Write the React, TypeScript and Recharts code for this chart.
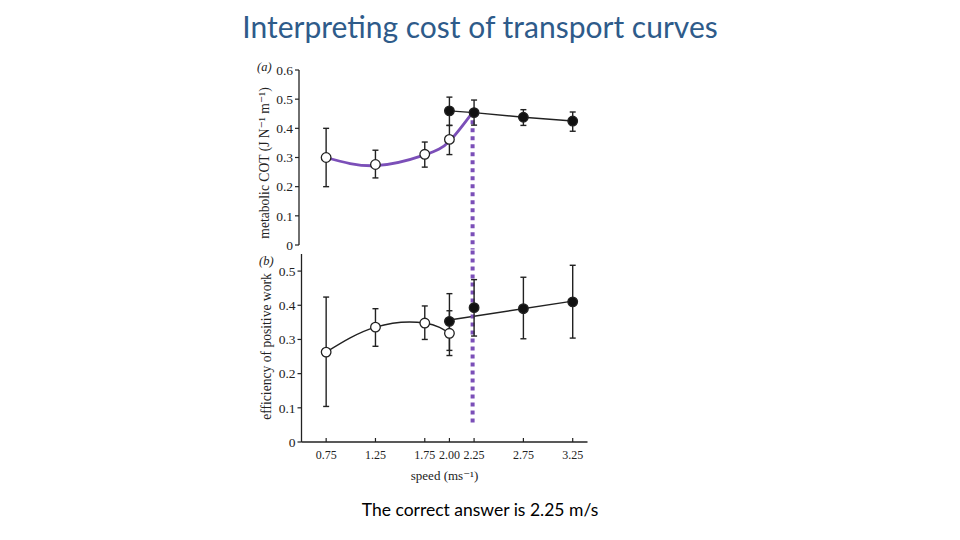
import { ComposedChart, Line, Scatter, XAxis, YAxis, ErrorBar, ReferenceLine, Label } from "recharts";

// speeds (m/s)
const speedTicks = [0.75, 1.25, 1.75, 2.0, 2.25, 2.75, 3.25];
const openSpeeds = [0.75, 1.25, 1.75, 2.0];
const filledSpeeds = [2.0, 2.25, 2.75, 3.25];

// (a) metabolic COT: mean, lower, upper
const cotOpenMean = [0.3, 0.276, 0.311, 0.362];
const cotOpenLow = [0.2, 0.23, 0.267, 0.31];
const cotOpenHigh = [0.4, 0.325, 0.353, 0.41];
const cotFilledMean = [0.46, 0.454, 0.438, 0.425];
const cotFilledLow = [0.41, 0.411, 0.41, 0.39];
const cotFilledHigh = [0.507, 0.497, 0.464, 0.456];
const cotFitSpeeds = [0.75, 1.25, 1.75, 2.0, 2.235];
const cotFitValues = [0.3, 0.272, 0.309, 0.356, 0.455];
const cotTicks = [0, 0.1, 0.2, 0.3, 0.4, 0.5, 0.6];

// (b) efficiency of positive work
const effOpenMean = [0.263, 0.336, 0.348, 0.318];
const effOpenLow = [0.104, 0.28, 0.3, 0.253];
const effOpenHigh = [0.424, 0.39, 0.398, 0.384];
const effFilledMean = [0.353, 0.393, 0.39, 0.41];
const effFilledLow = [0.268, 0.31, 0.302, 0.304];
const effFilledHigh = [0.434, 0.475, 0.482, 0.517];
const effFitSpeeds = [2.0, 3.25];
const effFitValues = [0.357, 0.412];
const effTicks = [0, 0.1, 0.2, 0.3, 0.4, 0.5];

const answerSpeed = 2.235;

const SERIF = '"Liberation Serif", "DejaVu Serif", serif';
const INK = "#222";
const PURPLE = "#7b4fb8";

const rows = (xs: number[], mean: number[], low: number[], high: number[]) =>
  xs.map((x, i) => ({ x, y: mean[i], err: [mean[i] - low[i], high[i] - mean[i]] }));
const line = (xs: number[], ys: number[]) => xs.map((x, i) => ({ x, y: ys[i] }));

const fmtY = (v: number) => (v === 0 ? "0" : v.toFixed(1));

const dot = (fill: string) => (p: any) => (
  <circle cx={p.cx} cy={p.cy} r={4.8} fill={fill} stroke={INK} strokeWidth={1.3} />
);

const yLabel = (text: string, ox: number, oy: number) => (p: any) => {
  const { x, y, width, height } = p.viewBox;
  const cx = x + width / 2 + ox;
  const cy = y + height / 2 + oy;
  return (
    <text x={cx} y={cy} transform={`rotate(-90 ${cx} ${cy})`} textAnchor="middle" dominantBaseline="central"
      fill={INK} fontSize={13.6} fontFamily={SERIF}>
      {text}
    </text>
  );
};

export default function App() {
  const cotOpen = rows(openSpeeds, cotOpenMean, cotOpenLow, cotOpenHigh);
  const cotFilled = rows(filledSpeeds, cotFilledMean, cotFilledLow, cotFilledHigh);
  const effOpen = rows(openSpeeds, effOpenMean, effOpenLow, effOpenHigh);
  const effFilled = rows(filledSpeeds, effFilledMean, effFilledLow, effFilledHigh);

  const yAxisProps = {
    type: "number" as const,
    width: 50,
    tick: { fill: INK, fontSize: 13.5, fontFamily: SERIF },
    tickSize: 4,
    tickMargin: 2,
    tickFormatter: fmtY,
    interval: 0 as const,
    axisLine: { stroke: INK, strokeWidth: 1.3 },
    tickLine: { stroke: INK, strokeWidth: 1.2 },
    allowDataOverflow: true,
  };

  return (
    <div style={{ position: "absolute", left: 0, top: 0, width: 960, height: 540, background: "#fff", overflow: "hidden" }}>
      <div style={{ position: "absolute", left: 0, width: 960, top: 8, textAlign: "center", fontFamily: "Lato, 'Open Sans', sans-serif", fontSize: 30, color: "#2e5b8a" }}>
        Interpreting cost of transport curves
      </div>

      <span style={{ position: "absolute", left: 257, top: 60, fontFamily: SERIF, fontSize: 12.5, fontStyle: "italic", color: INK }}>(a)</span>
      <span style={{ position: "absolute", left: 259, top: 254, fontFamily: SERIF, fontSize: 12.5, fontStyle: "italic", color: INK }}>(b)</span>

      <div style={{ position: "absolute", left: 230, top: 60 }}>
        <ComposedChart width={370} height={200} margin={{ top: 10, right: 12.5, bottom: 15, left: 19 }}>
          <XAxis dataKey="x" type="number" domain={[0.475, 3.4]} allowDataOverflow hide />
          <YAxis {...yAxisProps} domain={[0, 0.6]} ticks={cotTicks}>
            <Label content={yLabel("metabolic COT (J N⁻¹ m⁻¹)", -10, 5.5)} />
          </YAxis>
          <Line data={line(cotFitSpeeds, cotFitValues)} dataKey="y" type="natural" stroke={PURPLE} strokeWidth={2.8} dot={false} isAnimationActive={false} />
          <Line data={cotFilled} dataKey="y" type="linear" stroke={INK} strokeWidth={1.4} dot={false} isAnimationActive={false} />
          <ReferenceLine segment={[{ x: answerSpeed, y: 0.455 }, { x: answerSpeed, y: -0.015 }]} ifOverflow="visible" stroke={PURPLE} strokeWidth={4} strokeDasharray="4 4" />
          <Scatter data={cotOpen} dataKey="y" shape={dot("#fff")} isAnimationActive={false}>
            <ErrorBar dataKey="err" direction="y" width={3} stroke={INK} strokeWidth={1.4} />
          </Scatter>
          <Scatter data={cotFilled} dataKey="y" shape={dot("#111")} isAnimationActive={false}>
            <ErrorBar dataKey="err" direction="y" width={3} stroke={INK} strokeWidth={1.4} />
          </Scatter>
        </ComposedChart>
      </div>

      <div style={{ position: "absolute", left: 230, top: 243 }}>
        <ComposedChart width={370} height={249} margin={{ top: 11, right: 12.5, bottom: 5, left: 21.5 }}>
          <XAxis dataKey="x" type="number" domain={[0.5, 3.4]} allowDataOverflow ticks={speedTicks} interval={0}
            tickFormatter={(v: number) => v.toFixed(2)} height={45} tick={{ fill: INK, fontSize: 12, fontFamily: SERIF }}
            tickSize={-4} tickMargin={12}
            axisLine={{ stroke: INK, strokeWidth: 1.3 }} tickLine={{ stroke: INK, strokeWidth: 1.2 }}>
            <Label value="speed (ms⁻¹)" position="insideBottom" offset={7} fill={INK} fontSize={13} fontFamily={SERIF} />
          </XAxis>
          <YAxis {...yAxisProps} domain={[0, 0.55]} ticks={effTicks}>
            <Label content={yLabel("efficiency of positive work", -10, -1.5)} />
          </YAxis>
          <Line data={effOpen} dataKey="y" type="natural" stroke={INK} strokeWidth={1.4} dot={false} isAnimationActive={false} />
          <Line data={line(effFitSpeeds, effFitValues)} dataKey="y" type="linear" stroke={INK} strokeWidth={1.4} dot={false} isAnimationActive={false} />
          <ReferenceLine segment={[{ x: answerSpeed, y: 0.56 }, { x: answerSpeed, y: 0.05 }]} ifOverflow="visible" stroke={PURPLE} strokeWidth={4} strokeDasharray="4 4" />
          <Scatter data={effOpen} dataKey="y" shape={dot("#fff")} isAnimationActive={false}>
            <ErrorBar dataKey="err" direction="y" width={3} stroke={INK} strokeWidth={1.4} />
          </Scatter>
          <Scatter data={effFilled} dataKey="y" shape={dot("#111")} isAnimationActive={false}>
            <ErrorBar dataKey="err" direction="y" width={3} stroke={INK} strokeWidth={1.4} />
          </Scatter>
        </ComposedChart>
      </div>

      <div style={{ position: "absolute", left: 0, width: 960, top: 499, textAlign: "center", fontFamily: "Lato, 'Open Sans', sans-serif", fontSize: 17.5, color: "#000" }}>
        The correct answer is 2.25 m/s
      </div>
    </div>
  );
}
